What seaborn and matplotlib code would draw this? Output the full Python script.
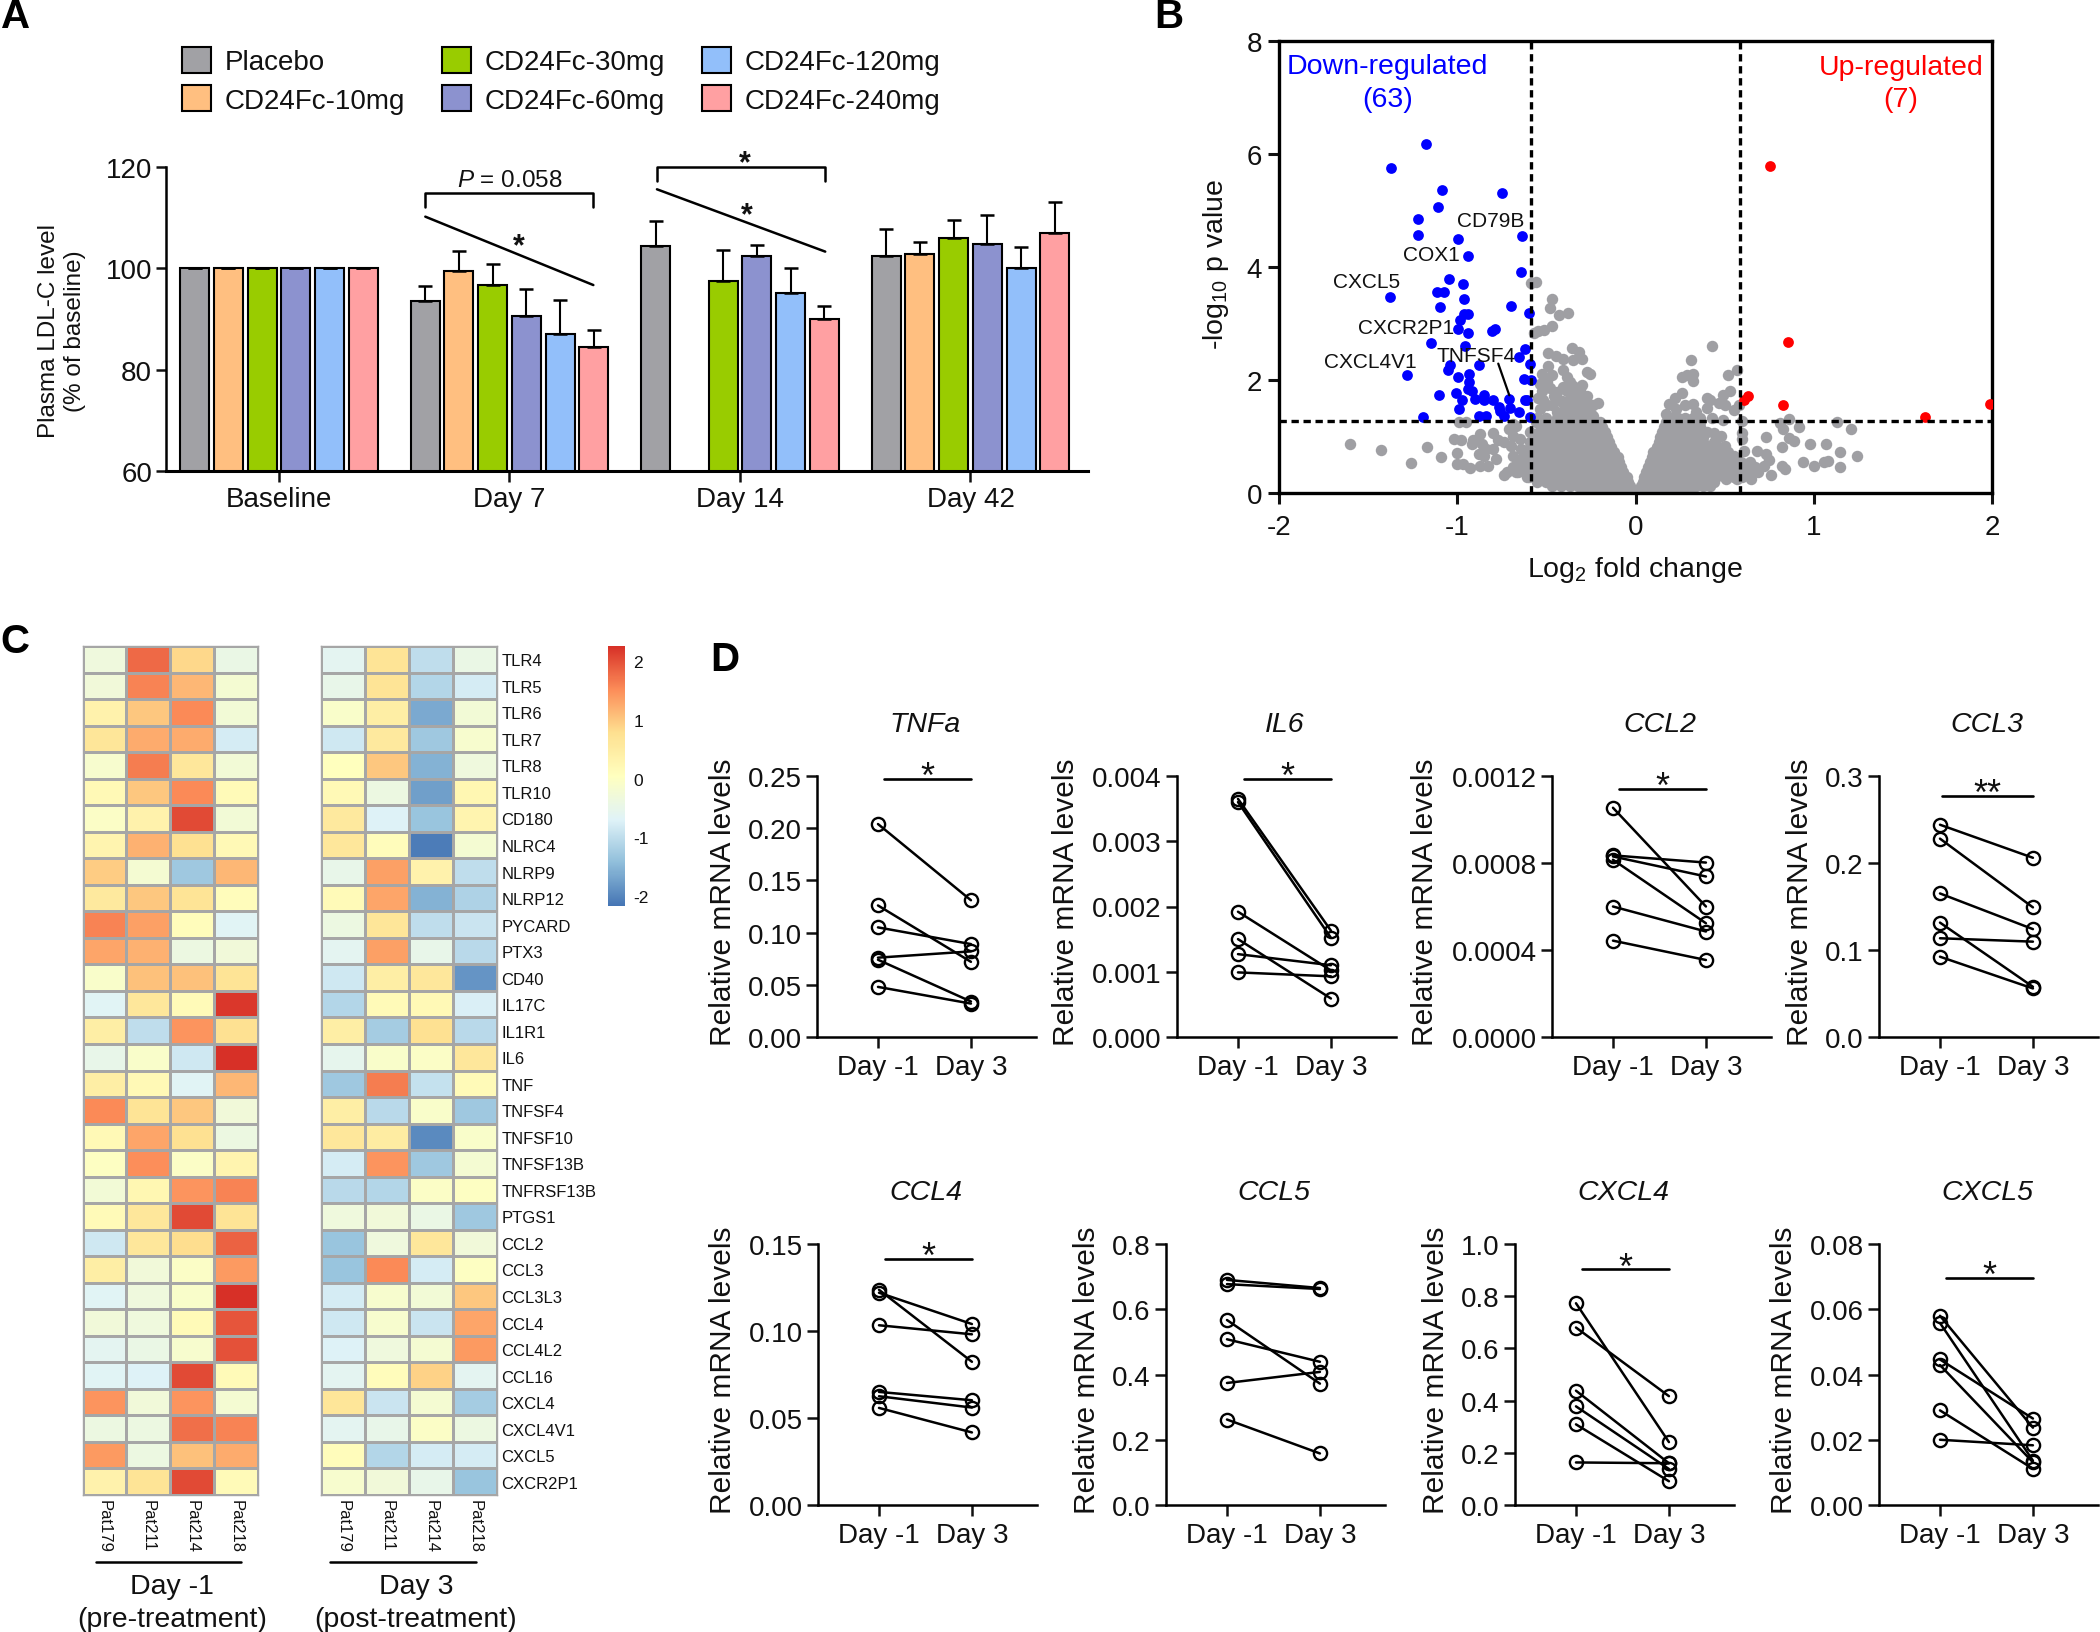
import pandas as pd
import matplotlib
matplotlib.use("Agg")
import matplotlib.pyplot as plt
import seaborn as sns

# -------------------------------
# PANEL A DATA
# -------------------------------
days = ["Baseline", "Day 7", "Day 14", "Day 42"]
groups = ["Placebo", "CD24Fc-10mg", "CD24Fc-30mg", "CD24Fc-60mg", "CD24Fc-120mg", "CD24Fc-240mg"]
group_colors = ["#A1A1A5", "#FFBF80", "#99CC00", "#8C92CF", "#92BFFA", "#FFA0A2"]
ldl_mean = {
    "Placebo": [100, 93.6, 104.4, 102.5],
    "CD24Fc-10mg": [100, 99.5, None, 102.8],
    "CD24Fc-30mg": [100, 96.8, 97.5, 105.9],
    "CD24Fc-60mg": [100, 90.6, 102.4, 104.9],
    "CD24Fc-120mg": [100, 87.0, 95.1, 100.0],
    "CD24Fc-240mg": [100, 84.5, 90.0, 107.0],
}
ldl_top = {
    "Placebo": [100, 96.6, 109.4, 107.8],
    "CD24Fc-10mg": [100, 103.4, None, 105.2],
    "CD24Fc-30mg": [100, 100.8, 103.7, 109.5],
    "CD24Fc-60mg": [100, 95.9, 104.7, 110.6],
    "CD24Fc-120mg": [100, 93.7, 100.0, 104.2],
    "CD24Fc-240mg": [100, 87.9, 92.5, 113.0],
}

# -------------------------------
# PANEL B DATA
# -------------------------------
down_x = [-1.175, -1.372, -1.083, -0.748, -1.108, -1.218, -1.222, -0.634, -0.994, -0.942, -0.64, -1.046,
          -0.969, -1.114, -1.077, -1.378, -0.963, -0.698, -1.098, -0.60, -0.963, -0.942, -0.985, -0.994,
          -0.942, -0.788, -0.806, -1.145, -0.957, -0.622, -0.652, -0.877, -0.591, -1.043, -1.052, -1.28,
          -0.932, -0.997, -0.628, -0.585, -0.932, -0.942, -0.917, -1.105, -1.006, -0.849, -0.898, -0.975,
          -0.80, -0.708, -0.622, -0.609, -0.766, -0.702, -0.76, -0.991, -0.655, -0.735, -0.84, -0.877,
          -1.191, -0.591, -0.849]
down_y = [6.17, 5.76, 5.36, 5.31, 5.07, 4.85, 4.56, 4.54, 4.49, 4.20, 3.91, 3.79,
          3.70, 3.56, 3.55, 3.47, 3.44, 3.31, 3.29, 3.18, 3.17, 3.17, 3.06, 2.91,
          2.84, 2.91, 2.86, 2.65, 2.61, 2.55, 2.40, 2.26, 2.28, 2.26, 2.18, 2.09,
          2.10, 2.05, 2.01, 2.00, 1.96, 1.84, 1.80, 1.74, 1.77, 1.73, 1.67, 1.65,
          1.65, 1.66, 1.65, 1.65, 1.53, 1.51, 1.45, 1.48, 1.43, 1.36, 1.37, 1.37,
          1.34, 1.34, 1.64]
up_x = [0.754, 0.855, 0.631, 0.606, 0.825, 1.988, 1.622]
up_y = [5.78, 2.68, 1.72, 1.64, 1.56, 1.58, 1.35]

grey_left_x = [-1.60, -1.43, -1.26, -1.17, -1.09, -1.02, -1.00, -0.99, -0.95, -1.00, -0.97, -0.93, -0.87,
               -0.83, -0.78, -0.88, -0.84, -0.91, -0.87, -0.80, -0.98, -0.92, -0.86, -0.74, -0.71, -0.67,
               -0.69, -0.74, -0.69, -0.64, -0.64, -0.65, -0.59, -0.85, -0.80, -0.77, -0.70, -0.69, -0.61,
               -0.66, -0.61, -0.57, -0.69,
               -0.56, -0.586, -0.466, -0.48, -0.376, -0.427, -0.466, -0.513, -0.545, -0.569, -0.354, -0.315,
               -0.348, -0.30, -0.49, -0.446, -0.408, -0.489, -0.404, -0.273, -0.255, -0.526, -0.47, -0.386,
               -0.367, -0.30, -0.536, -0.498, -0.526, -0.545, -0.46, -0.386, -0.339, -0.273, -0.208, -0.423,
               -0.348, -0.292, -0.536, -0.498, -0.442, -0.367, -0.264, -0.236, -0.404, -0.311, -0.376, -0.32,
               -0.47, -0.41, -0.36, -0.31, -0.40, -0.34, -0.29, -0.24, -0.35, -0.28, -0.33, -0.52, -0.44,
               -0.48, -0.33, -0.27, -0.25]
grey_left_y = [0.87, 0.76, 0.53, 0.81, 0.63, 0.96, 0.70, 1.25, 1.25, 0.51, 0.51, 0.45, 0.48,
               0.48, 0.60, 0.69, 0.78, 0.93, 1.04, 1.07, 0.93, 0.87, 0.87, 0.90, 1.13, 1.19,
               1.01, 0.31, 0.42, 0.48, 0.78, 0.96, 0.90, 0.66, 0.78, 0.93, 0.84, 0.66, 0.60,
               0.37, 0.28, 0.42, 1.22,
               3.73, 3.72, 3.43, 3.27, 3.19, 3.15, 2.95, 2.89, 2.86, 2.83, 2.57, 2.49,
               2.36, 2.37, 2.47, 2.43, 2.37, 2.24, 2.18, 2.14, 2.11, 2.11, 2.08, 2.05,
               1.96, 1.91, 1.93, 1.96, 1.81, 1.69, 1.72, 1.81, 1.78, 1.72, 1.59, 1.63,
               1.60, 1.58, 1.49, 1.55, 1.43, 1.43, 1.49, 1.37, 1.87, 1.69, 1.55, 1.49,
               1.55, 1.62, 1.72, 1.82, 1.47, 1.40, 1.47, 1.55, 1.90, 1.65, 1.62, 1.65, 1.78,
               1.85, 1.55, 1.60, 1.40]
grey_right_x = [0.43, 0.31, 0.26, 0.29, 0.32, 0.32, 0.52, 0.57, 0.26, 0.22, 0.19, 0.40, 0.42, 0.49, 0.53,
                0.47, 0.50, 0.40, 0.55, 0.58, 0.32, 0.28, 0.17, 0.23, 0.34, 0.43, 0.49, 0.60,
                0.86, 0.81, 0.83, 0.92, 1.13, 1.21, 0.73, 0.86, 0.89, 0.82, 0.98, 1.07, 1.15, 1.24,
                0.94, 1.00, 1.06, 1.08, 1.15, 0.82, 0.84, 0.76, 0.60, 0.60, 0.68, 0.73, 0.75, 0.72,
                0.69, 0.65, 0.61, 0.63, 0.57, 0.51, 0.42, 0.48, 0.44, 0.50, 0.55, 0.34]
grey_right_y = [2.61, 2.36, 2.06, 2.09, 2.11, 1.99, 2.08, 2.18, 1.77, 1.69, 1.58, 1.69, 1.65, 1.73, 1.81,
                1.59, 1.56, 1.50, 1.47, 1.55, 1.58, 1.55, 1.40, 1.49, 1.43, 1.32, 1.30, 1.28,
                1.31, 1.24, 1.13, 1.16, 1.26, 1.13, 0.99, 0.97, 0.92, 0.82, 0.86, 0.86, 0.72, 0.65,
                0.54, 0.48, 0.55, 0.57, 0.46, 0.47, 0.42, 0.32, 1.07, 0.96, 0.75, 0.69, 0.59, 0.48,
                0.37, 0.25, 0.75, 0.48, 0.25, 0.25, 0.13, 1.01, 1.07, 0.84, 0.66, 0.13]
grey_core = [
    (1.33, [-0.55, -0.50, -0.44, -0.39, -0.34, -0.29, -0.24, 0.20, 0.24, 0.28, 0.32, 0.36]),
    (1.25, [-0.56, -0.51, -0.47, -0.41, -0.36, -0.32, -0.26, -0.22, -0.20, 0.17, 0.22, 0.27, 0.32, 0.36]),
    (1.16, [-0.53, -0.48, -0.43, -0.38, -0.33, -0.28, -0.23, -0.19, 0.16, 0.21, 0.26, 0.31, 0.36]),
    (1.08, [-0.59, -0.54, -0.50, -0.44, -0.39, -0.33, -0.29, -0.24, -0.20, -0.17, 0.15, 0.20, 0.25, 0.30, 0.35, 0.40]),
    (0.99, [-0.56, -0.51, -0.46, -0.40, -0.35, -0.30, -0.25, -0.20, -0.16, 0.14, 0.19, 0.24, 0.29, 0.34, 0.38]),
    (0.91, [-0.57, -0.52, -0.48, -0.42, -0.37, -0.31, -0.27, -0.22, -0.18, -0.15, 0.13, 0.18, 0.23, 0.28, 0.33, 0.38, 0.44]),
    (0.82, [-0.59, -0.54, -0.49, -0.44, -0.39, -0.34, -0.29, -0.24, -0.19, -0.14, 0.12, 0.17, 0.22, 0.27, 0.32, 0.37, 0.42, 0.47]),
    (0.73, [-0.60, -0.55, -0.50, -0.45, -0.40, -0.34, -0.30, -0.25, -0.20, -0.16, -0.12, 0.10, 0.15, 0.20, 0.25, 0.30, 0.35, 0.40, 0.46, 0.52]),
    (0.64, [-0.63, -0.58, -0.53, -0.48, -0.43, -0.38, -0.33, -0.28, -0.23, -0.18, -0.13, -0.10, 0.09, 0.14, 0.19, 0.24, 0.29, 0.34, 0.39, 0.44, 0.49]),
    (0.55, [-0.66, -0.61, -0.56, -0.51, -0.46, -0.41, -0.36, -0.31, -0.26, -0.21, -0.16, -0.12, -0.09, 0.08, 0.13, 0.18, 0.23, 0.28, 0.33, 0.38, 0.43, 0.48, 0.54, 0.59, 0.64]),
    (0.46, [-0.69, -0.64, -0.59, -0.54, -0.49, -0.44, -0.39, -0.34, -0.29, -0.24, -0.19, -0.14, -0.10, -0.08, 0.07, 0.12, 0.17, 0.22, 0.27, 0.32, 0.37, 0.42, 0.47, 0.52, 0.57, 0.62, 0.67]),
    (0.37, [-0.72, -0.67, -0.62, -0.57, -0.52, -0.47, -0.42, -0.37, -0.32, -0.27, -0.22, -0.17, -0.12, -0.09, -0.07, 0.06, 0.11, 0.16, 0.21, 0.26, 0.31, 0.36, 0.41, 0.46, 0.51, 0.56, 0.61, 0.66]),
    (0.29, [-0.60, -0.55, -0.50, -0.45, -0.40, -0.35, -0.30, -0.25, -0.20, -0.15, -0.11, -0.07, -0.05, 0.05, 0.10, 0.15, 0.20, 0.25, 0.30, 0.35, 0.40, 0.45, 0.50, 0.55, 0.60]),
    (0.20, [-0.55, -0.50, -0.45, -0.40, -0.35, -0.30, -0.25, -0.20, -0.15, -0.10, -0.07, -0.04, 0.04, 0.09, 0.14, 0.19, 0.24, 0.29, 0.34, 0.39, 0.44]),
    (0.12, [-0.47, -0.42, -0.37, -0.32, -0.27, -0.22, -0.17, -0.12, -0.08, -0.05, -0.03, 0.03, 0.08, 0.13, 0.18, 0.23, 0.28, 0.33, 0.38]),
    (0.06, [-0.30, -0.25, -0.20, -0.15, -0.10, -0.05, -0.02, 0.02, 0.06, 0.11, 0.16, 0.21, 0.26, 0.30]),
]
gene_labels = ["CD79B", "COX1", "CXCL5", "CXCR2P1", "TNFSF4", "CXCL4V1"]
gene_x = [-0.81, -1.145, -1.51, -1.286, -0.892, -1.486]
gene_y = [4.83, 4.22, 3.74, 2.93, 2.43, 2.32]

# -------------------------------
# PANEL C DATA
# -------------------------------
genes = ["TLR4", "TLR5", "TLR6", "TLR7", "TLR8", "TLR10", "CD180", "NLRC4", "NLRP9", "NLRP12", "PYCARD",
         "PTX3", "CD40", "IL17C", "IL1R1", "IL6", "TNF", "TNFSF4", "TNFSF10", "TNFSF13B", "TNFRSF13B",
         "PTGS1", "CCL2", "CCL3", "CCL3L3", "CCL4", "CCL4L2", "CCL16", "CXCL4", "CXCL4V1", "CXCL5", "CXCR2P1"]
patients = ["Pat179", "Pat211", "Pat214", "Pat218"]
heat_pre = [
    [-0.35, 1.8, 0.85, -0.45], [-0.3, 1.6, 1.15, -0.2], [0.35, 1.0, 1.55, -0.25], [0.65, 1.25, 1.25, -0.8],
    [-0.15, 1.65, 0.6, -0.25], [0.2, 1.0, 1.55, 0.15], [-0.05, 0.35, 2.05, -0.25], [0.3, 1.2, 0.75, 0.2],
    [0.95, -0.2, -1.3, 1.15], [0.55, 1.0, 0.7, 0.1], [1.6, 1.35, 0.1, -0.65], [1.3, 1.2, -0.4, -0.3],
    [-0.1, 1.05, 1.05, 0.7], [-0.65, 0.6, 0.15, 2.2], [0.45, -1.0, 1.45, 0.75], [-0.5, -0.1, -0.85, 2.25],
    [0.45, 0.2, -0.65, 1.15], [1.55, 0.7, 1.0, -0.3], [0.2, 1.3, 0.75, -0.4], [0.0, 1.5, -0.05, 0.3],
    [-0.25, 0.25, 1.45, 1.6], [0.15, 0.6, 2.05, 0.7], [-0.85, 0.6, 0.8, 1.85], [0.45, -0.3, -0.05, 1.4],
    [-0.65, -0.35, -0.1, 2.25], [-0.3, -0.35, 0.15, 1.95], [-0.6, -0.45, -0.15, 2.0], [-0.65, -0.7, 2.05, 0.15],
    [1.45, -0.3, 1.45, -0.2], [-0.4, -0.4, 1.75, 1.6], [1.4, -0.4, 1.05, 1.25], [0.35, 0.7, 2.05, 0.15],
]
heat_post = [
    [-0.6, 0.7, -1.0, -0.45], [-0.5, 0.7, -1.1, -0.8], [-0.1, 0.45, -1.65, -0.25], [-0.85, 0.55, -1.3, -0.15],
    [0.05, 1.0, -1.55, -0.35], [0.2, -0.4, -1.75, 0.25], [0.55, -0.7, -1.35, 0.3], [0.6, 0.1, -2.1, -0.2],
    [-0.5, 1.35, 0.35, -1.0], [0.15, 1.3, -1.55, -1.15], [-0.4, 0.65, -1.0, -0.9], [-0.6, 1.35, -0.5, -1.05],
    [-0.85, 0.45, 0.6, -1.85], [-1.1, 0.15, 0.2, -0.75], [0.45, -1.25, 0.75, -1.05], [-0.55, -0.1, -0.05, 0.6],
    [-1.3, 1.65, -0.95, 0.15], [0.45, -1.05, -0.1, -1.3], [0.6, 0.5, -1.95, -0.1], [-0.8, 1.45, -1.3, -0.2],
    [-1.05, -1.1, -0.05, 0.0], [-0.35, -0.3, -0.45, -1.3], [-1.35, -0.35, 0.6, -0.3], [-1.35, 1.55, -0.8, 0.0],
    [-0.8, -0.15, -0.25, 1.0], [-0.85, -0.15, -0.9, 1.3], [-0.7, -0.35, -0.2, 1.4], [-0.6, 0.1, 0.9, -0.6],
    [0.65, -0.9, -0.2, -1.25], [-0.6, -0.5, -0.05, -0.4], [0.1, -1.1, -0.8, -0.8], [-0.15, -0.3, -0.5, -1.35],
]
heat_colors = ["#4575B4", "#91BFDB", "#E0F3F8", "#FFFFBF", "#FEE090", "#FC8D59", "#D73027"]

# -------------------------------
# PANEL D DATA
# -------------------------------
tnfa_pre = [0.204, 0.126, 0.105, 0.076, 0.074, 0.048]
tnfa_post = [0.131, 0.072, 0.089, 0.082, 0.034, 0.032]
il6_pre = [0.00365, 0.0036, 0.00192, 0.0015, 0.00127, 0.00099]
il6_post = [0.00163, 0.00152, 0.00102, 0.00059, 0.0011, 0.00093]
ccl2_pre = [0.001054, 0.000835, 0.00083, 0.000815, 0.0006, 0.000443]
ccl2_post = [0.0006, 0.000802, 0.000738, 0.000523, 0.000485, 0.000354]
ccl3_pre = [0.244, 0.228, 0.165, 0.1315, 0.1135, 0.0923]
ccl3_post = [0.206, 0.149, 0.124, 0.0577, 0.1096, 0.0558]
ccl4_pre = [0.1237, 0.122, 0.1033, 0.065, 0.0625, 0.0558]
ccl4_post = [0.0823, 0.104, 0.0981, 0.0602, 0.056, 0.0417]
ccl5_pre = [0.69, 0.677, 0.567, 0.508, 0.374, 0.262]
ccl5_post = [0.665, 0.662, 0.372, 0.439, 0.408, 0.158]
cxcl4_pre = [0.773, 0.68, 0.438, 0.378, 0.309, 0.163]
cxcl4_post = [0.241, 0.417, 0.16, 0.138, 0.091, 0.16]
cxcl5_pre = [0.058, 0.0558, 0.0446, 0.0429, 0.029, 0.02]
cxcl5_post = [0.0237, 0.0136, 0.0265, 0.0131, 0.0111, 0.0183]
paired_days = ["Day -1", "Day 3"]

# name, pre, post, y ticks, tick format, bar y, stars, bar start, left, top, ylabel x
d_panels = [
    ("TNFa", tnfa_pre, tnfa_post, [0, 0.05, 0.10, 0.15, 0.20, 0.25], "%.2f", 0.2474, "*", 0.07, 817, 777, 723),
    ("IL6", il6_pre, il6_post, [0, 0.001, 0.002, 0.003, 0.004], "%.3f", 0.00396, "*", 0.07, 1177, 777, 1066),
    ("CCL2", ccl2_pre, ccl2_post, [0, 0.0004, 0.0008, 0.0012], "%.4f", 0.00114, "*", 0.06, 1552, 777, 1425),
    ("CCL3", ccl3_pre, ccl3_post, [0, 0.1, 0.2, 0.3], "%.1f", 0.277, "**", 0.02, 1879, 777, 1800),
    ("CCL4", ccl4_pre, ccl4_post, [0, 0.05, 0.10, 0.15], "%.2f", 0.1413, "*", 0.07, 818, 1245, 723),
    ("CCL5", ccl5_pre, ccl5_post, [0, 0.2, 0.4, 0.6, 0.8], "%.1f", None, "", 0, 1166, 1245, 1087),
    ("CXCL4", cxcl4_pre, cxcl4_post, [0, 0.2, 0.4, 0.6, 0.8, 1.0], "%.1f", 0.9026, "*", 0.07, 1515, 1245, 1436),
    ("CXCL5", cxcl5_pre, cxcl5_post, [0, 0.02, 0.04, 0.06, 0.08], "%.2f", 0.0695, "*", 0.06, 1879, 1245, 1784),
]

# -------------------------------
# FIGURE SETUP
# -------------------------------
sns.set_theme(style="white")
plt.rcParams["font.family"] = ["Liberation Sans", "DejaVu Sans"]
plt.rcParams["mathtext.fontset"] = "custom"
plt.rcParams["mathtext.rm"] = "Liberation Sans"
plt.rcParams["mathtext.it"] = "Liberation Sans:italic"
plt.rcParams["axes.edgecolor"] = "black"
plt.rcParams["axes.unicode_minus"] = False
plt.rcParams["text.color"] = "#111111"
plt.rcParams["xtick.color"] = "#111111"
plt.rcParams["ytick.color"] = "#111111"

W, H = 2100, 1633
fig = plt.figure(figsize=(W / 100, H / 100), dpi=100)


def axes_px(left, top, right, bottom):
    return fig.add_axes([left / W, 1 - bottom / H, (right - left) / W, (bottom - top) / H])


def fig_text(x, y, s, **kw):
    fig.text(x / W, 1 - y / H, s, **kw)


def prism_axes(ax, lw=1.8):
    sns.despine(ax=ax)
    ax.spines["left"].set_linewidth(lw)
    ax.spines["bottom"].set_linewidth(lw)
    ax.tick_params(axis="both", which="major", direction="out", bottom=True, left=True,
                   width=lw, length=8, labelsize=20, pad=3)
    ax.set_xlabel("")
    ax.set_ylabel("")


# -------------------------------
# PANEL A
# -------------------------------
def draw_panel_a():
    ax = axes_px(166, 168, 1088, 472)
    rows = []
    for g in groups:
        for d, m, t in zip(days, ldl_mean[g], ldl_top[g]):
            rows.append({"day": d, "group": g, "value": m, "top": t})
    df = pd.DataFrame(rows)
    df["day"] = pd.Categorical(df["day"], categories=days, ordered=True)

    sns.barplot(data=df, x="day", y="value", hue="group", order=days, hue_order=groups,
                palette=group_colors, saturation=1, width=0.878, gap=0.14, errorbar=None,
                edgecolor="black", linewidth=1.5, ax=ax)
    for g, container in zip(groups, ax.containers):
        sub = df[(df["group"] == g) & df["value"].notna()].sort_values("day")
        for bar, (_, row) in zip(container, sub.iterrows()):
            cx = bar.get_x() + bar.get_width() / 2
            ax.errorbar([cx], [row["value"]], yerr=[[0], [row["top"] - row["value"]]], color="black",
                        capsize=5.2, elinewidth=1.5, capthick=1.8, zorder=1)

    ax.set_ylim(60, 120)
    ax.set_xlim(-0.49, 3.51)
    ax.set_yticks([60, 80, 100, 120])
    prism_axes(ax)
    ax.tick_params(axis="y", length=7)
    ax.spines["bottom"].set_linewidth(2.2)

    sns.move_legend(ax, "upper left", bbox_to_anchor=(0.017, 1.395), ncol=3, frameon=False, title=None,
                    fontsize=20, handlelength=1.05, handleheight=1.05, handletextpad=0.5,
                    columnspacing=1.32, labelspacing=0.36, borderaxespad=0, borderpad=0)

    # brackets and trend lines
    ax.plot([0.635, 0.635, 1.364, 1.364], [112.2, 114.9, 114.9, 112.2], color="black", lw=1.8, clip_on=False)
    ax.text(1.0, 117.4, r"$\it{P}$ = 0.058", ha="center", va="center", fontsize=17.5)
    ax.plot([0.635, 1.364], [110.2, 96.7], color="black", lw=1.8, clip_on=False)
    ax.text(1.04, 104.4, "*", ha="center", va="center", fontsize=22, fontweight="bold")
    ax.plot([1.64, 1.64, 2.37, 2.37], [117.3, 120, 120, 117.3], color="black", lw=1.8, clip_on=False)
    ax.text(2.02, 120.7, "*", ha="center", va="center", fontsize=22, fontweight="bold", clip_on=False)
    ax.plot([1.64, 2.37], [115.6, 103.3], color="black", lw=1.8, clip_on=False)
    ax.text(2.03, 110.4, "*", ha="center", va="center", fontsize=22, fontweight="bold")

    fig_text(62, 331, "Plasma LDL-C level\n(% of baseline)", rotation=90, ha="center", va="center",
             fontsize=17.5, linespacing=1.22, multialignment="center")


# -------------------------------
# PANEL B
# -------------------------------
def draw_panel_b():
    ax = axes_px(1279, 42, 1992, 494)
    core_x = [x for _, xs in grey_core for x in xs]
    core_y = [y for y, xs in grey_core for _ in xs]
    grey = pd.DataFrame({"x": grey_left_x + grey_right_x + core_x, "y": grey_left_y + grey_right_y + core_y})
    down = pd.DataFrame({"x": down_x, "y": down_y})
    up = pd.DataFrame({"x": up_x, "y": up_y})
    sns.scatterplot(data=grey, x="x", y="y", color="#9F9FA3", s=68, linewidth=0, ax=ax, zorder=2)
    sns.scatterplot(data=down, x="x", y="y", color="#0000FF", s=60, linewidth=0, ax=ax, zorder=3)
    sns.scatterplot(data=up, x="x", y="y", color="#FF0000", s=60, linewidth=0, ax=ax, zorder=3)

    ax.set_xlim(-2, 2)
    ax.set_ylim(0, 8)
    ax.set_xticks([-2, -1, 0, 1, 2])
    ax.set_yticks([0, 2, 4, 6, 8])
    for cut in [-0.585, 0.585]:
        ax.axvline(cut, color="black", lw=2.4, dashes=(2.2, 1.4), zorder=4)
    ax.axhline(1.27, color="black", lw=2.4, dashes=(2.2, 1.4), zorder=4)

    ax.set_xlabel("")
    ax.set_ylabel("")
    for s in ax.spines.values():
        s.set_visible(True)
        s.set_linewidth(2.4)
    ax.tick_params(axis="both", direction="out", bottom=True, left=True, width=2.2, length=8,
                   labelsize=20, pad=4)
    ax.tick_params(axis="x", pad=7)

    for name, x, y in zip(gene_labels, gene_x, gene_y):
        ax.text(x, y, name, ha="center", va="center", fontsize=15, zorder=5)
    ax.plot([-0.77, -0.708], [2.29, 1.73], color="black", lw=1.6, zorder=5)

    ax.text(-1.39, 7.56, "Down-regulated", color="#0000FF", ha="center", va="center", fontsize=20.5)
    ax.text(-1.39, 6.98, "(63)", color="#0000FF", ha="center", va="center", fontsize=20.5)
    ax.text(1.49, 7.54, "Up-regulated", color="#FF0000", ha="center", va="center", fontsize=20.5)
    ax.text(1.49, 6.98, "(7)", color="#FF0000", ha="center", va="center", fontsize=20.5)

    fig_text(1216, 264, "-log$_{10}$ p value", rotation=90, ha="center", va="center", fontsize=20.5)
    fig_text(1635, 570, "Log$_{2}$ fold change", ha="center", va="center", fontsize=20.5)


# -------------------------------
# PANEL C
# -------------------------------
def draw_panel_c():
    cmap = sns.blend_palette(heat_colors, as_cmap=True)
    vmin, vmax = -2.17, 2.26
    ax1 = axes_px(82.5, 647, 258, 1496)
    ax2 = axes_px(321, 647, 497, 1496)
    cax = axes_px(608, 647, 625, 907)
    pre = pd.DataFrame(heat_pre, index=genes, columns=patients)
    post = pd.DataFrame(heat_post, index=genes, columns=patients)

    sns.heatmap(pre, ax=ax1, cmap=cmap, vmin=vmin, vmax=vmax, linewidths=1, linecolor="#A6A6A6",
                cbar=False, yticklabels=False)
    sns.heatmap(post, ax=ax2, cmap=cmap, vmin=vmin, vmax=vmax, linewidths=1, linecolor="#A6A6A6",
                cbar=True, cbar_ax=cax)
    ax2.yaxis.tick_right()
    ax2.tick_params(axis="y", length=0, labelsize=12, rotation=0, pad=3)
    for ax in [ax1, ax2]:
        ax.tick_params(axis="x", length=0, labelsize=12, pad=3)
        ax.set_xticklabels(patients, rotation=270)
        for s in ax.spines.values():
            s.set_visible(True)
            s.set_color("#A6A6A6")
            s.set_linewidth(1)

    cbar = ax2.collections[0].colorbar
    cbar.outline.set_visible(False)
    cbar.set_ticks([-2, -1, 0, 1, 2])
    cax.tick_params(length=0, labelsize=12.5, pad=6)

    for x0, x1, center, top_txt, low_txt in [(96, 241, 172, "Day -1", "(pre-treatment)"),
                                             (330, 476, 416, "Day 3", "(post-treatment)")]:
        fig.add_artist(plt.Line2D([x0 / W, x1 / W], [1 - 1563 / H, 1 - 1563 / H], color="black", lw=1.8))
        fig_text(center, 1587, top_txt, ha="center", va="center", fontsize=20.5)
        fig_text(center, 1620, low_txt, ha="center", va="center", fontsize=20.5)


# -------------------------------
# PANEL D
# -------------------------------
def draw_panel_d():
    for name, pre, post, yt, fmt, bar_y, stars, bar_x0, left, top, lab_x in d_panels:
        ax = axes_px(left, top, left + 219, top + 261)
        pairs = list(range(len(pre)))
        df = pd.DataFrame({
            "pair": pairs + pairs,
            "day": [paired_days[0]] * len(pre) + [paired_days[1]] * len(post),
            "value": pre + post,
        })
        sns.lineplot(data=df, x="day", y="value", units="pair", estimator=None, color="black", lw=1.8,
                     marker="o", markersize=9.5, markerfacecolor="none", markeredgecolor="black",
                     markeredgewidth=1.7, ax=ax)
        ax.set_xlim(-0.656, 1.70)
        ax.set_ylim(yt[0], yt[-1])
        ax.set_xticks([0, 1])
        ax.set_xticklabels(paired_days)
        ax.set_yticks(yt)
        ax.set_yticklabels([fmt % v for v in yt])
        prism_axes(ax)
        ax.tick_params(axis="x", pad=4)
        if bar_y is not None:
            ax.plot([bar_x0, 1.0], [bar_y, bar_y], color="black", lw=1.9, clip_on=False)
            ax.annotate(stars, xy=((bar_x0 + 1) / 2, bar_y), xytext=(0, 1), textcoords="offset points",
                        ha="center", va="center", fontsize=26, annotation_clip=False)
        fig_text(left + 108, top - 52, name, style="italic", ha="center", va="center", fontsize=20.5)
        fig_text(lab_x, top + 125, "Relative mRNA levels", rotation=90, ha="center", va="center", fontsize=21.5)


# -------------------------------
# RUN
# -------------------------------
if __name__ == "__main__":
    draw_panel_a()
    draw_panel_b()
    draw_panel_c()
    draw_panel_d()
    for letter, x, y in [("A", 1, 28), ("B", 1154, 28), ("C", 0, 653), ("D", 710, 671)]:
        fig_text(x, y, letter, fontsize=29, fontweight="bold", color="black", ha="left", va="baseline")
    fig.savefig("out.png", dpi=100)
